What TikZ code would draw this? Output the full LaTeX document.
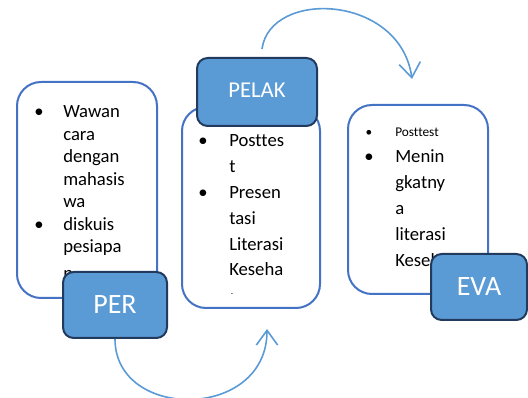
\documentclass[tikz,border=0pt]{standalone}
\usepackage{fontspec}
\setmainfont{Carlito}[Ligatures=NoCommon]
\usetikzlibrary{arrows.meta,calc}
\definecolor{boxline}{HTML}{4472C4}
\definecolor{tagfill}{HTML}{5B9BD5}
\definecolor{tagline}{HTML}{223A5E}

\begin{document}
\begin{tikzpicture}[x=0.75pt,y=-0.75pt,
    box/.style={draw=boxline,line width=1.5pt,rounded corners=18pt,fill=white},
    tag/.style={draw=tagline,line width=1.5pt,rounded corners=8pt,fill=tagfill,text=white},
    txt/.style={inner sep=0pt,anchor=base west,font=\fontsize{14}{17}\selectfont},
    dot/.style={inner sep=0pt,anchor=base,font=\fontsize{14}{17}\selectfont},
    arr/.style={draw=tagfill,line width=1.2pt,-{Straight Barb[length=11pt,width=16pt]}}]
    \useasboundingbox (0,0) rectangle (528,398);
    % boxes with their lists
    \node[box,minimum width=105pt,minimum height=162pt](b1) at (87,190) {};
    \node[dot](d1) at (39,118) {•};
    \node[dot](d2) at (39,230.5) {•};
    \foreach \w [count=\i] in {Wawan,cara,dengan,mahasis,wa,diskuis,pesiapa}
        \node[txt](p\i) at (63,{118+22.5*(\i-1)}) {\w};
    \node[txt](p8) at (63,280) {n};

    \node[box,minimum width=103.5pt,minimum height=150.75pt](b2) at (251,207.5) {};
    \node[dot](d3) at (203,147) {•};
    \node[dot](d4) at (203,198.6) {•};
    \begin{scope}
        \clip (182,107) rectangle (320,294);
        \foreach \w [count=\i] in {Posttes,t,Presen,tasi,Literasi,Keseha}
            \node[txt](l\i) at (229,{147+25.8*(\i-1)}) {\w};
        \node[txt](l7) at (229,306) {tan};
    \end{scope}

    \node[box,minimum width=105pt,minimum height=141.75pt](b3) at (418,199.5) {};
    \node[dot,font=\fontsize{10}{12}\selectfont](d5) at (369,137) {•};
    \node[txt,font=\fontsize{10}{12}\selectfont](e0) at (395,137) {Posttest};
    \node[dot](d6) at (369,163) {•};
    \foreach \w [count=\i] in {Menin,gkatny,a,literasi,Kesehatan}
        \node[txt](e\i) at (395,{163+26*(\i-1)}) {\w};

    % stage tags
    \node[tag,minimum width=78pt,minimum height=49.5pt,font=\fontsize{21}{25}\selectfont](per) at (115,305) {PER};
    \node[tag,minimum width=90pt,minimum height=51pt,font=\fontsize{17}{20}\selectfont](pelak) at (257,92) {\raisebox{3pt}{PELAK}};
    \node[tag,minimum width=72pt,minimum height=49.5pt,font=\fontsize{21}{25}\selectfont](eva) at (479,287) {EVA};

    % arrows
    \draw[arr] (per.south) .. controls +(0,82) and +(0,92) .. ($(b2.south)+(16,20)$);
    \draw[arr] ($(pelak.north)+(5,-8)$) .. controls +(8,-60) and +(-12,-85) .. ($(b3.north)+(-6,-25)$);
\end{tikzpicture}
\end{document}
